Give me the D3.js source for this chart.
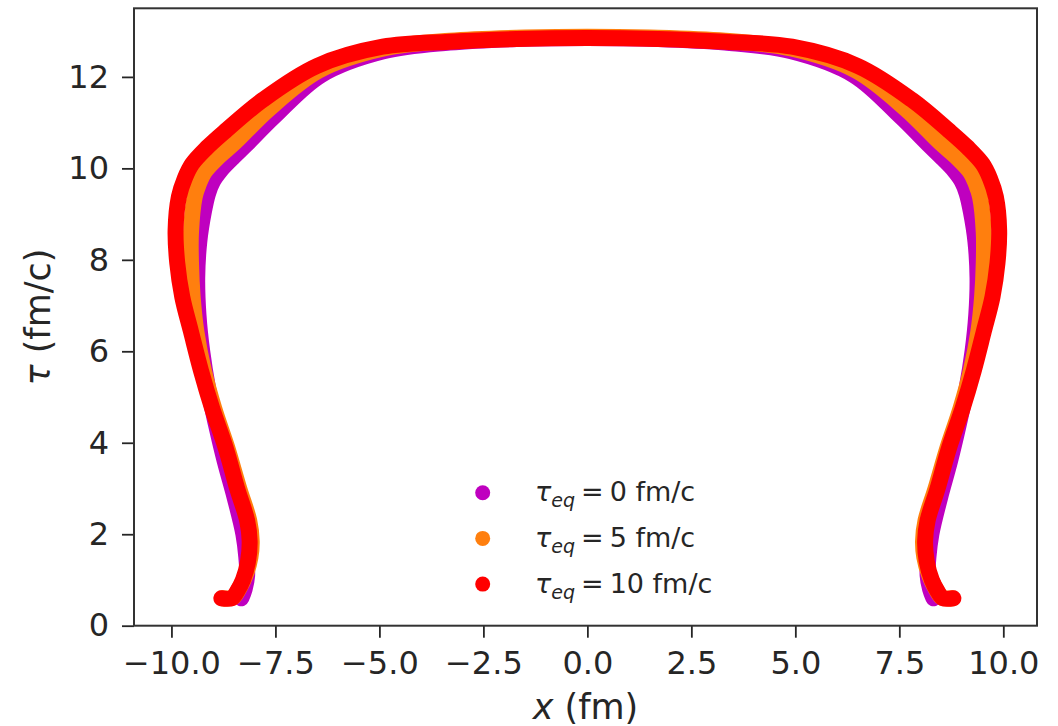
<!DOCTYPE html>
<html>
<head>
<meta charset="utf-8">
<script src="https://cdn.jsdelivr.net/npm/d3@7"></script>
<style>
  body { margin: 0; background: #fff; }
  text { font-family: "DejaVu Sans", sans-serif; fill: #262626; }
</style>
</head>
<body>
<svg id="chart" width="1058" height="726"></svg>
<script>
// freeze-out surfaces, [x (fm), tau (fm/c)]
var surfEq0 = [[-8.32,0.60],[-8.24,0.80],[-8.18,1.10],[-8.20,1.50],[-8.27,2.00],[-8.48,2.80],[-8.72,3.60],
  [-8.93,4.40],[-9.12,5.20],[-9.26,6.00],[-9.35,6.80],[-9.38,7.60],[-9.33,8.40],[-9.22,9.05],[-9.12,9.45],
  [-9.00,9.72],[-8.82,9.95],[-8.56,10.20],[-8.20,10.52],[-7.52,11.14],[-6.40,12.04],[-4.90,12.56],[-3.31,12.75],
  [-1.70,12.83],[0.00,12.85],
  [1.70,12.83],[3.31,12.75],[4.90,12.56],[6.40,12.04],[7.52,11.14],[8.20,10.52],[8.56,10.20],[8.82,9.95],
  [9.00,9.72],[9.12,9.45],[9.22,9.05],[9.33,8.40],[9.38,7.60],[9.35,6.80],[9.26,6.00],[9.12,5.20],[8.93,4.40],
  [8.72,3.60],[8.48,2.80],[8.27,2.00],[8.20,1.50],[8.18,1.10],[8.24,0.80],[8.32,0.60]];

var surfEq5 = [[-8.78,0.60],[-8.52,0.62],[-8.38,0.80],[-8.22,1.10],[-8.10,1.50],[-8.07,1.85],[-8.13,2.30],
  [-8.37,3.00],[-8.66,3.90],[-8.97,4.75],[-9.22,5.58],[-9.40,6.43],[-9.49,7.19],[-9.53,7.93],[-9.53,8.60],
  [-9.44,9.38],[-9.34,9.66],[-9.21,9.91],[-8.90,10.22],[-8.48,10.56],[-7.65,11.30],[-6.45,12.14],[-4.90,12.62],
  [-3.31,12.79],[-1.50,12.86],[0.00,12.88],
  [1.50,12.86],[3.31,12.79],[4.90,12.62],[6.45,12.14],[7.65,11.30],[8.48,10.56],[8.90,10.22],[9.21,9.91],
  [9.34,9.66],[9.44,9.38],[9.53,8.60],[9.53,7.93],[9.49,7.19],[9.40,6.43],[9.22,5.58],[8.97,4.75],[8.66,3.90],
  [8.37,3.00],[8.13,2.30],[8.07,1.85],[8.10,1.50],[8.22,1.10],[8.38,0.80],[8.52,0.62],[8.78,0.60]];

var surfEq10 = [[-8.80,0.60],[-8.55,0.60],[-8.42,0.75],[-8.28,1.00],[-8.16,1.40],[-8.12,1.85],[-8.18,2.30],
  [-8.42,3.00],[-8.70,3.90],[-9.02,4.75],[-9.29,5.58],[-9.53,6.43],[-9.74,7.19],[-9.86,7.93],[-9.90,8.65],
  [-9.82,9.38],[-9.68,9.78],[-9.50,10.10],[-9.15,10.45],[-8.70,10.82],[-7.80,11.50],[-6.50,12.24],[-4.92,12.66],
  [-3.31,12.77],[-1.70,12.83],[0.00,12.85],
  [1.70,12.83],[3.31,12.77],[4.92,12.66],[6.50,12.24],[7.80,11.50],[8.70,10.82],[9.15,10.45],[9.50,10.10],
  [9.68,9.78],[9.82,9.38],[9.90,8.65],[9.86,7.93],[9.74,7.19],[9.53,6.43],[9.29,5.58],[9.02,4.75],[8.70,3.90],
  [8.42,3.00],[8.18,2.30],[8.12,1.85],[8.16,1.40],[8.28,1.00],[8.42,0.75],[8.55,0.60],[8.80,0.60]];

var tauEq = [0, 5, 10];
var colors = ["#bf00bf", "#ff7f0e", "#ff0000"];
var xTicks = [-10, -7.5, -5, -2.5, 0, 2.5, 5, 7.5, 10];
var yTicks = [0, 2, 4, 6, 8, 10, 12];

var series = [surfEq0, surfEq5, surfEq10];

var svg = d3.select("#chart");
var pLeft = 134, pRight = 1037, pTop = 8.3, pBottom = 625.7;

var x = d3.scaleLinear().domain([-10.9, 10.81]).range([pLeft, pRight]);
var y = d3.scaleLinear().domain([0, 13.5]).range([pBottom, pTop]);

var line = d3.line()
  .x(function(d) { return x(d[0]); })
  .y(function(d) { return y(d[1]); })
  .curve(d3.curveCatmullRom.alpha(0.5));

svg.append("defs").append("clipPath").attr("id", "plot-clip")
  .append("rect").attr("x", pLeft).attr("y", pTop).attr("width", pRight - pLeft).attr("height", pBottom - pTop);

var plot = svg.append("g").attr("clip-path", "url(#plot-clip)");

plot.selectAll(".surf")
  .data(series)
  .enter().append("path")
  .attr("class", "surf")
  .attr("d", line)
  .attr("fill", "none")
  .attr("stroke", function(d, i) { return colors[i]; })
  .attr("stroke-width", 16)
  .attr("stroke-linecap", "round")
  .attr("stroke-linejoin", "round");

// axes
var xAxis = svg.append("g")
  .attr("transform", "translate(0," + pBottom + ")")
  .call(d3.axisBottom(x).tickValues(xTicks).tickSize(12).tickPadding(14).tickFormat(d3.format(".1f")));
var yAxis = svg.append("g")
  .attr("transform", "translate(" + pLeft + ",0)")
  .call(d3.axisLeft(y).tickValues(yTicks).tickSize(12).tickPadding(13));

[xAxis, yAxis].forEach(function(a) {
  a.select(".domain").remove();
  a.selectAll(".tick line").attr("stroke", "#262626").attr("stroke-width", 1.8);
  a.selectAll(".tick text").attr("fill", "#262626").style("font-size", "32px")
    .style("font-family", "DejaVu Sans, sans-serif");
});

svg.append("rect")
  .attr("x", pLeft).attr("y", pTop)
  .attr("width", pRight - pLeft).attr("height", pBottom - pTop)
  .attr("fill", "none").attr("stroke", "#333").attr("stroke-width", 2);

// axis labels
var xl = svg.append("text")
  .attr("x", (pLeft + pRight) / 2).attr("y", 719)
  .attr("text-anchor", "middle").style("font-size", "35px");
xl.append("tspan").style("font-style", "italic").text("x");
xl.append("tspan").text(" (fm)");

var yl = svg.append("text")
  .attr("transform", "translate(50," + ((pTop + pBottom) / 2) + ") rotate(-90)")
  .attr("text-anchor", "middle").style("font-size", "35px");
yl.append("tspan").style("font-style", "italic").text("τ");
yl.append("tspan").text(" (fm/c)");

// legend
var legend = svg.append("g");
tauEq.forEach(function(t, i) {
  var ly = 492.7 + i * 45.7;
  legend.append("circle").attr("cx", 482.7).attr("cy", ly).attr("r", 7.5).attr("fill", colors[i]);
  var lt = legend.append("text").attr("x", 535).attr("y", ly + 8.5).style("font-size", "27px");
  lt.append("tspan").style("font-style", "italic").text("τ");
  lt.append("tspan").style("font-style", "italic").style("font-size", "19px").attr("dy", 6).text("eq");
  lt.append("tspan").attr("dy", -6).attr("dx", 6).text("=");
  lt.append("tspan").attr("dx", 6).text(t + " fm/c");
});
</script>
</body>
</html>
